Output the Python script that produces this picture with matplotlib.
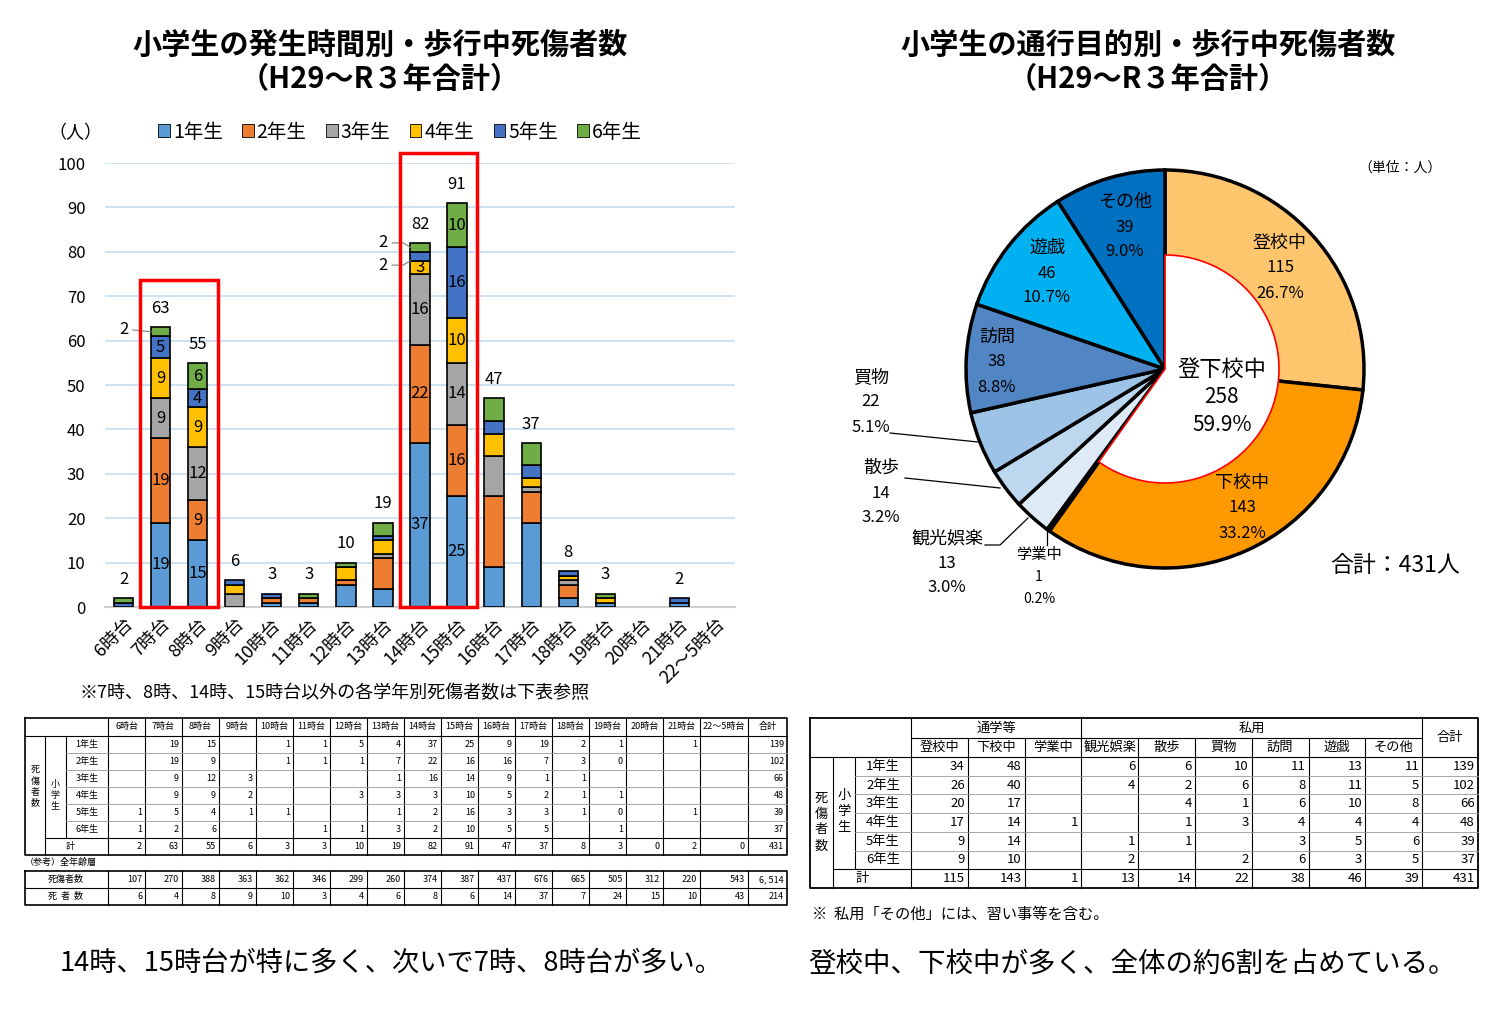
import numpy as np
import matplotlib
matplotlib.use("Agg")
import matplotlib.pyplot as plt
from matplotlib.patches import Rectangle

plt.rcParams['font.family'] = ['Noto Sans CJK JP', 'DejaVu Sans']

# ---- data: casualties by hour and grade (blank cells = None)
hours = ["6時台", "7時台", "8時台", "9時台", "10時台", "11時台", "12時台", "13時台",
         "14時台", "15時台", "16時台", "17時台", "18時台", "19時台", "20時台", "21時台", "22～5時台"]
grades = ["1年生", "2年生", "3年生", "4年生", "5年生", "6年生"]
N = None
g1 = [N, 19, 15, N, 1, 1, 5, 4, 37, 25, 9, 19, 2, 1, N, 1, N]
g2 = [N, 19, 9, N, 1, 1, 1, 7, 22, 16, 16, 7, 3, 0, N, N, N]
g3 = [N, 9, 12, 3, N, N, N, 1, 16, 14, 9, 1, 1, N, N, N, N]
g4 = [N, 9, 9, 2, N, N, 3, 3, 3, 10, 5, 2, 1, 1, N, N, N]
g5 = [1, 5, 4, 1, 1, N, N, 1, 2, 16, 3, 3, 1, 0, N, 1, N]
g6 = [1, 2, 6, N, N, 1, 1, 3, 2, 10, 5, 5, N, 1, N, N, N]
grade_rows = [g1, g2, g3, g4, g5, g6]
all_casualties = [107, 270, 388, 363, 362, 346, 299, 260, 374, 387, 437, 676, 665, 505, 312, 220, 543]
all_deaths = [6, 4, 8, 9, 10, 3, 4, 6, 8, 6, 14, 37, 7, 24, 15, 10, 43]
detail_idx = [1, 2, 8, 9]  # bars with per-grade labels

# ---- data: casualties by purpose and grade
purposes = ["登校中", "下校中", "学業中", "観光娯楽", "散歩", "買物", "訪問", "遊戯", "その他"]
p_tokou = [34, 26, 20, 17, 9, 9]
p_gekou = [48, 40, 17, 14, 14, 10]
p_gakugyou = [N, N, N, 1, N, N]
p_kankou = [6, 4, N, N, 1, 2]
p_sanpo = [6, 2, 4, 1, 1, N]
p_kaimono = [10, 6, 1, 3, N, 2]
p_houmon = [11, 8, 6, 4, 3, 6]
p_yugi = [13, 11, 10, 4, 5, 3]
p_sonota = [11, 5, 8, 4, 6, 5]
purpose_cols = [p_tokou, p_gekou, p_gakugyou, p_kankou, p_sanpo, p_kaimono, p_houmon, p_yugi, p_sonota]

grade_colors = ["#5B9BD5", "#ED7D31", "#A5A5A5", "#FFC000", "#4472C4", "#70AD47"]
pie_colors = ["#FFC66E", "#FF9900", "#000000", "#DEEBF7", "#BDD7EE", "#9DC3E6",
              "#5185C4", "#00B0F0", "#0070C0"]


def num(v):
    return 0 if v is None else v


def fmt(v):
    return "" if v is None else str(v)


fig = plt.figure(figsize=(15, 10.36), dpi=100)

# overlay in pixel coordinates for titles, tables and notes
ov = fig.add_axes([0, 0, 1, 1])
ov.set_xlim(0, 1500)
ov.set_ylim(1036, 0)
ov.axis('off')

ov.text(380, 45, "小学生の発生時間別・歩行中死傷者数", ha='center', va='center', fontsize=21, weight='bold')
ov.text(380, 79, "（H29～R３年合計）", ha='center', va='center', fontsize=21, weight='bold')
ov.text(1148, 45, "小学生の通行目的別・歩行中死傷者数", ha='center', va='center', fontsize=21, weight='bold')
ov.text(1148, 79, "（H29～R３年合計）", ha='center', va='center', fontsize=21, weight='bold')
ov.text(75, 133, "（人）", ha='center', va='center', fontsize=13)
ov.text(80, 693, "※7時、8時、14時、15時台以外の各学年別死傷者数は下表参照", ha='left', va='center', fontsize=13)
ov.text(60, 963, "14時、15時台が特に多く、次いで7時、8時台が多い。", ha='left', va='center', fontsize=19.6)
ov.text(808, 965, "登校中、下校中が多く、全体の約6割を占めている。", ha='left', va='center', fontsize=19.8)
ov.text(1400, 168, "（単位：人）", ha='center', va='center', fontsize=10)
ov.text(1395, 565, "合計：431人", ha='center', va='center', fontsize=16.5)
ov.text(812, 914, "※  私用「その他」には、習い事等を含む。", ha='left', va='center', fontsize=11)

# ---- stacked bar chart
ax = fig.add_axes([105 / 1500, (1036 - 607) / 1036, 630 / 1500, 444 / 1036])
ax.patch.set_alpha(0)
x = np.arange(len(hours))
bottom = np.zeros(len(hours))
for name, vals, col in zip(grades, grade_rows, grade_colors):
    v = np.array([num(a) for a in vals], float)
    m = v > 0
    ax.bar(x[m], v[m], 0.52, bottom=bottom[m], color=col, edgecolor='black', linewidth=1.2, zorder=3)
    for i in detail_idx:
        if v[i] >= 3:
            ax.text(x[i], bottom[i] + v[i] / 2, str(int(v[i])), ha='center', va='center', fontsize=12, zorder=4)
    bottom += v
totals = bottom.astype(int)
for i, t in enumerate(totals):
    if t > 0:
        ax.text(i, t + 2.3, str(t), ha='center', va='bottom', fontsize=12)

# small segments labelled outside
ax.text(0, 62.4, "2", ha='center', va='center', fontsize=12)
ax.plot([0.25, 0.74], [62.4, 62], color='gray', lw=0.8, zorder=5)
ax.text(7, 82, "2", ha='center', va='center', fontsize=12)
ax.plot([7.25, 7.55, 7.74], [82, 82, 81], color='gray', lw=0.8, zorder=5)
ax.text(7, 77, "2", ha='center', va='center', fontsize=12)
ax.plot([7.25, 7.55, 7.74], [77, 77, 78], color='gray', lw=0.8, zorder=5)

ax.add_patch(Rectangle((0.45, 0), 2.1, 73.6, fill=False, edgecolor='#FF0000', lw=2.5, clip_on=False, zorder=6))
ax.add_patch(Rectangle((7.45, 0), 2.1, 102.3, fill=False, edgecolor='#FF0000', lw=2.5, clip_on=False, zorder=6))

ax.set_xlim(-0.5, len(hours) - 0.5)
ax.set_ylim(0, 100)
ax.set_yticks(np.arange(0, 101, 10))
ax.tick_params(axis='y', length=0, labelsize=12, pad=14)
ax.tick_params(axis='x', length=0, pad=6)
ax.set_xticks(x)
ax.set_xticklabels(hours, rotation=45, ha='right', rotation_mode='anchor', fontsize=13)
ax.grid(axis='y', color='#C5DDF0', lw=1.2, zorder=0)
for s in ['left', 'right', 'top']:
    ax.spines[s].set_visible(False)
ax.spines['bottom'].set_color('#D0D0D0')
ax.spines['bottom'].set_linewidth(1.5)

handles = [Rectangle((0, 0), 1, 1, facecolor=c, edgecolor='black', lw=0.6) for c in grade_colors]
fig.legend(handles, grades, loc='center', bbox_to_anchor=(400 / 1500, 1 - 132 / 1036), ncol=6,
           frameon=False, fontsize=14, handlelength=0.6, handleheight=0.6, handletextpad=0.15,
           columnspacing=1.0)

# ---- pie chart
pie_vals = [sum(num(a) for a in col) for col in purpose_cols]
total = sum(pie_vals)
pax = fig.add_axes([945 / 1500, (1036 - 369 - 220) / 1036, 440 / 1500, 440 / 1036])
pax.pie(pie_vals, colors=pie_colors, startangle=90, counterclock=False, radius=199,
        wedgeprops=dict(edgecolor='black', linewidth=2.5))
school = pie_vals[0] + pie_vals[1]
inner, _ = pax.pie([school, total - school], colors=['white', 'white'], startangle=90, counterclock=False,
                   radius=114, wedgeprops=dict(edgecolor='red', linewidth=1.2))
inner[1].set_visible(False)
pax.set_xlim(-220, 220)
pax.set_ylim(-220, 220)
pax.set_aspect('equal')
pax.axis('off')

# pie labels on a top overlay
top = fig.add_axes([0, 0, 1, 1])
top.set_xlim(0, 1500)
top.set_ylim(1036, 0)
top.axis('off')
label_pos = [(1280, 268), (1242, 508), (1039, 577), (947, 563), (881, 493),
             (871, 402), (997, 362), (1047, 273), (1125, 227)]
for name, v, (lx, ly) in zip(purposes, pie_vals, label_pos):
    fs = 11 if name == "学業中" else 13
    gap = 22 if name == "学業中" else 25
    top.text(lx, ly - gap, name, ha='center', va='center', fontsize=fs)
    top.text(lx, ly, str(v), ha='center', va='center', fontsize=fs - 1)
    top.text(lx, ly + gap, f"{v / total * 100:.1f}%", ha='center', va='center', fontsize=fs - 1)
top.text(1222, 369, "登下校中", ha='center', va='center', fontsize=16)
top.text(1222, 397, str(school), ha='center', va='center', fontsize=15)
top.text(1222, 425, f"{school / total * 100:.1f}%", ha='center', va='center', fontsize=15)
top.plot([890, 978], [433, 442], color='black', lw=0.9)
top.plot([905, 1000], [478, 488], color='black', lw=0.9)
top.plot([985, 1000, 1028], [545, 545, 518], color='black', lw=0.9)
top.plot([1047, 1047], [545, 527], color='black', lw=0.9)

# ---- left table
le = [108 + 37 * i for i in range(17)] + [748, 787]
lr = [718, 736, 753, 770, 787, 804, 821, 838, 855]
tfs = 6.5
ov.plot([25, 787, 787, 25, 25], [718, 718, 855, 855, 718], color='black', lw=1.2)
for e in le[:-1]:
    ov.plot([e, e], [718, 855], color='black', lw=0.8)
ov.plot([45, 45], [736, 855], color='black', lw=0.8)
ov.plot([66, 66], [736, 838], color='black', lw=0.8)
ov.plot([25, 787], [736, 736], color='black', lw=0.8)
for y in lr[2:-2]:
    ov.plot([66, 787], [y, y], color='#999999', lw=0.6)
ov.plot([45, 787], [838, 838], color='black', lw=0.8)
heads = hours + ["合計"]
for j, h in enumerate(heads):
    ov.text((le[j] + le[j + 1]) / 2, 727, h, ha='center', va='center', fontsize=tfs)
ov.text(35, 787, "\n".join("死傷者数"), ha='center', va='center', fontsize=tfs, linespacing=1.25)
ov.text(55, 795, "\n".join("小学生"), ha='center', va='center', fontsize=tfs, linespacing=1.25)
for r, (gname, vals) in enumerate(zip(grades, grade_rows)):
    yc = (lr[r + 1] + lr[r + 2]) / 2
    ov.text(87, yc, gname, ha='center', va='center', fontsize=tfs)
    for j, v in enumerate(vals):
        ov.text(le[j + 1] - 3, yc, fmt(v), ha='right', va='center', fontsize=tfs)
    ov.text(le[-1] - 3, yc, str(sum(num(a) for a in vals)), ha='right', va='center', fontsize=tfs)
yc = (lr[-2] + lr[-1]) / 2
ov.text(70, yc, "計", ha='center', va='center', fontsize=tfs)
for j, t in enumerate(totals):
    ov.text(le[j + 1] - 3, yc, str(t), ha='right', va='center', fontsize=tfs)
ov.text(le[-1] - 3, yc, str(totals.sum()), ha='right', va='center', fontsize=tfs)

ov.text(25, 862, "（参考）全年齢層", ha='left', va='center', fontsize=tfs)
ov.plot([25, 787, 787, 25, 25], [871, 871, 905, 905, 871], color='black', lw=1.2)
ov.plot([25, 787], [888, 888], color='black', lw=0.8)
for e in le[:-1]:
    ov.plot([e, e], [871, 905], color='black', lw=0.8)
for yc, lab, vals in [(879.5, "死傷者数", all_casualties), (896.5, "死  者  数", all_deaths)]:
    ov.text(66, yc, lab, ha='center', va='center', fontsize=tfs)
    for j, v in enumerate(vals):
        ov.text(le[j + 1] - 3, yc, str(v), ha='right', va='center', fontsize=tfs)
    ov.text(le[-1] - 3, yc, f"{sum(vals):,}".replace(",", ", "), ha='right', va='center', fontsize=tfs)

# ---- right table
re_ = [911 + 56.8 * i for i in range(10)] + [1478]
rr = [757 + 18.71 * i for i in range(8)]
rfs = 9.5
ov.plot([810, 1478, 1478, 810, 810], [718, 718, 888, 888, 718], color='black', lw=1.3)
ov.plot([911, 1422], [738, 738], color='black', lw=0.8)
ov.plot([810, 1478], [757, 757], color='black', lw=0.8)
for k, e in enumerate(re_[:-1]):
    top_y = 718 if k in (0, 3, 9) else 738
    ov.plot([e, e], [top_y, 888], color='black', lw=0.8)
ov.plot([833, 833], [757, 888], color='black', lw=0.8)
ov.plot([855, 855], [757, rr[6]], color='black', lw=0.8)
for y in rr[1:6]:
    ov.plot([855, 1478], [y, y], color='#999999', lw=0.6)
ov.plot([833, 1478], [rr[6], rr[6]], color='black', lw=0.8)
ov.text((re_[0] + re_[3]) / 2, 728, "通学等", ha='center', va='center', fontsize=rfs)
ov.text((re_[3] + re_[9]) / 2, 728, "私用", ha='center', va='center', fontsize=rfs)
ov.text((re_[9] + re_[10]) / 2, 737, "合計", ha='center', va='center', fontsize=rfs)
for j, p in enumerate(purposes):
    ov.text((re_[j] + re_[j + 1]) / 2, 747.5, p, ha='center', va='center', fontsize=rfs)
ov.text(821, 822, "\n".join("死傷者数"), ha='center', va='center', fontsize=rfs, linespacing=1.3)
ov.text(844, 812, "\n".join("小学生"), ha='center', va='center', fontsize=rfs, linespacing=1.3)
for r, gname in enumerate(grades):
    yc = (rr[r] + rr[r + 1]) / 2
    ov.text(883, yc, gname, ha='center', va='center', fontsize=rfs)
    row = [col[r] for col in purpose_cols]
    for j, v in enumerate(row):
        ov.text(re_[j + 1] - 3, yc, fmt(v), ha='right', va='center', fontsize=rfs)
    ov.text(re_[-1] - 3, yc, str(sum(num(a) for a in row)), ha='right', va='center', fontsize=rfs)
yc = (rr[6] + rr[7]) / 2
ov.text(862, yc, "計", ha='center', va='center', fontsize=rfs)
for j, v in enumerate(pie_vals):
    ov.text(re_[j + 1] - 3, yc, str(v), ha='right', va='center', fontsize=rfs)
ov.text(re_[-1] - 3, yc, str(total), ha='right', va='center', fontsize=rfs)

fig.savefig("out.png", dpi=100)
